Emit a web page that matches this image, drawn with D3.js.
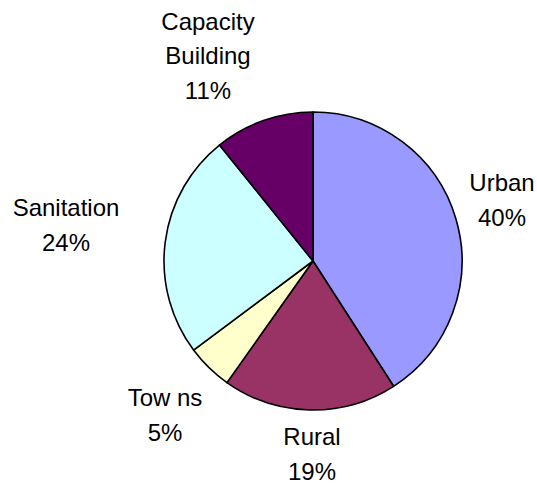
<!DOCTYPE html>
<html>
<head>
<meta charset="utf-8">
<script src="https://cdn.jsdelivr.net/npm/d3@7"></script>
<style>
  html, body { margin: 0; padding: 0; background: #fff; }
  svg { display: block; }
  text { font-family: "Liberation Sans", Arial, sans-serif; font-size: 24px; fill: #000; }
</style>
</head>
<body>
<svg id="chart" width="537" height="483"></svg>
<script>
// slice data, clockwise from 12 o'clock
var categories = ["Urban", "Rural", "Tow ns", "Sanitation", "Capacity|Building"],
    values = [40.9, 18.9, 5.0, 24.4, 10.8],
    pctLabels = ["40%", "19%", "5%", "24%", "11%"],
    colors = ["#9999ff", "#993366", "#ffffcc", "#ccffff", "#660066"];

// label block placement (centre x, first baseline)
var labelPos = [[502, 191], [312, 445], [165, 406], [66, 216], [208, 29.5]];

var svg = d3.select("#chart"),
    cx = 313, cy = 261, r = 149,
    lineH = 34.5;

var pie = d3.pie().sort(null).value((d) => d.value),
    arc = d3.arc().innerRadius(0).outerRadius(r);

var data = categories.map((c, i) => ({name: c, value: values[i], pct: pctLabels[i], color: colors[i], pos: labelPos[i]}));

var g = svg.append("g").attr("transform", "translate(" + cx + "," + cy + ")");

g.selectAll("path")
  .data(pie(data))
  .enter()
  .append("path")
  .attr("d", arc)
  .attr("fill", (d) => d.data.color)
  .attr("stroke", "#000")
  .attr("stroke-width", 1.6)
  .attr("stroke-linejoin", "round");

// labels
var labels = svg.selectAll("text.lbl")
  .data(data)
  .enter()
  .append("text")
  .attr("class", "lbl")
  .attr("text-anchor", "middle");

labels.each(function(d) {
  var lines = d.name.split("|").concat([d.pct]);
  d3.select(this).selectAll("tspan")
    .data(lines)
    .enter()
    .append("tspan")
    .attr("x", d.pos[0])
    .attr("y", (l, i) => d.pos[1] + i * lineH)
    .text((l) => l);
});
</script>
</body>
</html>
